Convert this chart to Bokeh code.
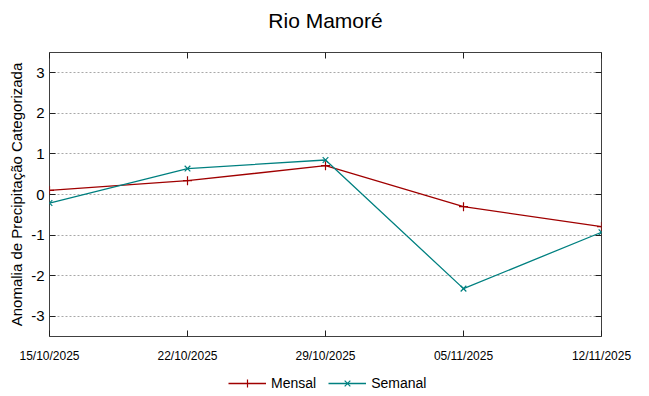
import pandas as pd
from bokeh.plotting import figure
from bokeh.layouts import column
from bokeh.models import (FixedTicker, DatetimeTickFormatter, LinearAxis, Label,
                          Legend, LegendItem, Range1d, CustomJSTickFormatter)
from bokeh.embed import file_html
from bokeh.resources import INLINE

dates = ["2025-10-15", "2025-10-22", "2025-10-29", "2025-11-05", "2025-11-12"]
mensal = [0.10, 0.34, 0.71, -0.30, -0.79]
semanal = [-0.21, 0.64, 0.85, -2.32, -0.93]
y_ticks = [-3, -2, -1, 0, 1, 2, 3]
series_names = ["Mensal", "Semanal"]
title_text = "Rio Mamoré"
y_label = "Anomalia de Precipitação Categorizada"

x = pd.to_datetime(dates)
x_ms = [int(t.value // 10**6) for t in x]

FONT = "Liberation Sans"
RED = "#a00000"
TEAL = "#008080"

# title strip
t = figure(width=649, height=38, output_backend="svg", toolbar_location=None,
           x_range=Range1d(0, 649), y_range=Range1d(0, 38),
           min_border=0, outline_line_color=None)
t.axis.visible = False
t.grid.visible = False
t.add_layout(Label(x=324.5, y=18, text=title_text, text_align="center",
                   text_baseline="middle", text_font=FONT, text_font_size="21px",
                   text_color="#000000"))

p = figure(width=649, height=332, output_backend="svg", toolbar_location=None,
           x_axis_type="datetime",
           x_range=Range1d(x_ms[0], x_ms[-1]), y_range=Range1d(-3.5, 3.5),
           min_border_left=49, min_border_right=48, min_border_top=14, min_border_bottom=34)

p.outline_line_color = "#404040"
p.outline_line_width = 1
p.background_fill_color = "white"
p.border_fill_color = "white"

p.xgrid.visible = False
p.ygrid.ticker = FixedTicker(ticks=y_ticks)
p.ygrid.grid_line_color = "#a8a8a8"
p.ygrid.grid_line_dash = "2 2"
p.ygrid.grid_line_width = 1

xt = FixedTicker(ticks=x_ms)
fmt = DatetimeTickFormatter(days="%d/%m/%Y", months="%d/%m/%Y", hours="%d/%m/%Y")
blank = CustomJSTickFormatter(code="return '';")
plain = CustomJSTickFormatter(code="return tick.toString();")

xa = p.xaxis[0]
xa.ticker = xt
xa.formatter = fmt
ya = p.yaxis[0]
ya.ticker = FixedTicker(ticks=y_ticks)
ya.formatter = plain
ya.axis_label = y_label
ya.axis_label_text_font = FONT
ya.axis_label_text_font_size = "15px"
ya.axis_label_text_font_style = "normal"
ya.axis_label_text_color = "#000000"
ya.axis_label_standoff = 3

for ax in (xa, ya):
    ax.axis_line_color = None
    ax.major_tick_in = 6
    ax.major_tick_out = 0
    ax.minor_tick_line_color = None
    ax.major_tick_line_color = "#202020"
    ax.major_label_text_font = FONT
    ax.major_label_text_color = "#000000"

xa.major_label_text_font_size = "12px"
xa.major_label_standoff = 12
ya.major_label_text_font_size = "15px"
ya.major_label_standoff = 5

ra = LinearAxis(ticker=FixedTicker(ticks=y_ticks), formatter=blank,
                axis_line_color=None, major_tick_in=6, major_tick_out=0,
                minor_tick_line_color=None, major_tick_line_color="#202020",
                major_label_standoff=0)
p.add_layout(ra, "right")
ta = LinearAxis(ticker=FixedTicker(ticks=x_ms), formatter=blank,
                axis_line_color=None, major_tick_in=6, major_tick_out=0,
                minor_tick_line_color=None, major_tick_line_color="#202020",
                major_label_standoff=0)
p.add_layout(ta, "above")

p.line(x_ms, mensal, line_color=RED, line_width=1.3)
p.scatter(x_ms, mensal, marker="cross", size=9, line_color=RED, line_width=1.2)
p.line(x_ms, semanal, line_color=TEAL, line_width=1.3)
p.scatter(x_ms, semanal, marker="x", size=8, line_color=TEAL, line_width=1.2)

# legend strip below the chart
q = figure(width=649, height=26, output_backend="svg", toolbar_location=None,
           x_range=Range1d(0, 1), y_range=Range1d(0, 1),
           min_border=0, outline_line_color=None)
q.axis.visible = False
q.grid.visible = False
nan = float("nan")
k1 = q.line([nan], [nan], line_color=RED, line_width=1.3)
k1m = q.scatter([nan], [nan], marker="cross", size=9, line_color=RED, line_width=1.2)
k2 = q.line([nan], [nan], line_color=TEAL, line_width=1.3)
k2m = q.scatter([nan], [nan], marker="x", size=8, line_color=TEAL, line_width=1.2)

legend = Legend(items=[LegendItem(label=series_names[0], renderers=[k1, k1m]),
                       LegendItem(label=series_names[1], renderers=[k2, k2m])],
                orientation="horizontal", location=(179, 3),
                label_text_font=FONT, label_text_font_size="14px",
                label_text_color="#000000",
                border_line_color=None, background_fill_alpha=0,
                glyph_width=38, spacing=12, padding=0, margin=0)
q.add_layout(legend, "center")

layout = column(t, p, q, spacing=0)
open("out.html", "w").write(file_html(layout, INLINE))
